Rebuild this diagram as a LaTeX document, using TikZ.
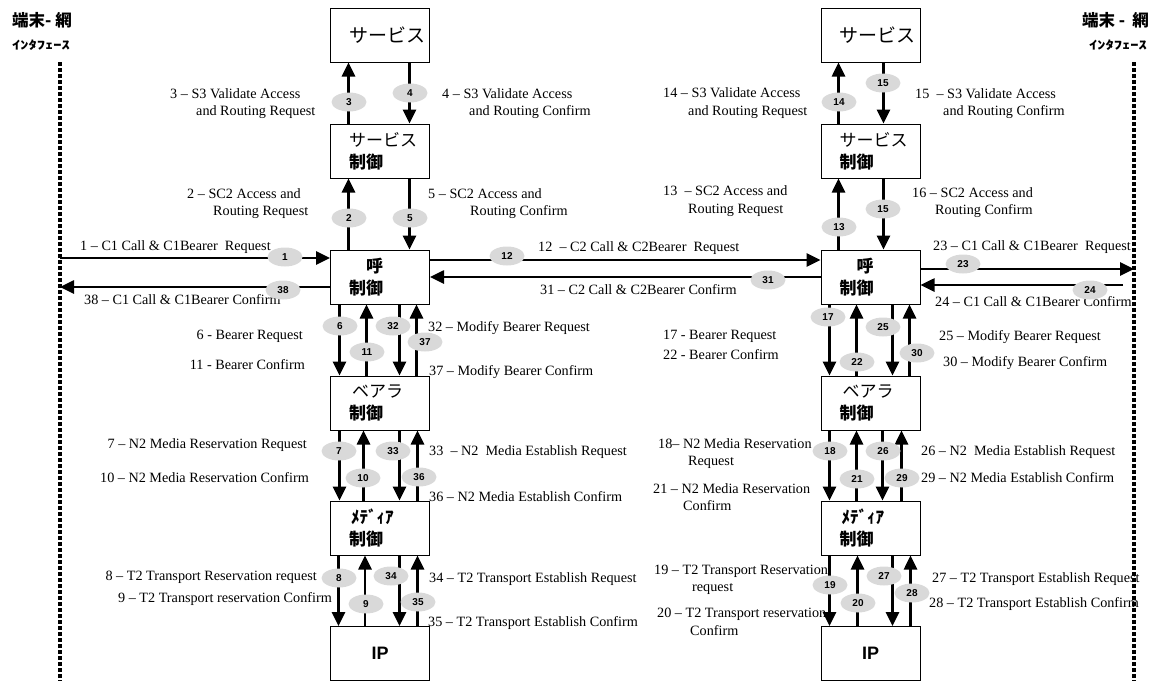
\documentclass[tikz,border=0pt]{standalone}
\usepackage{fontspec}
\usepackage{graphicx}
\setmainfont{Liberation Serif}
\newfontfamily\jp{Noto Sans CJK JP}
\newfontfamily\arial{Liberation Sans}
\usetikzlibrary{arrows.meta,shapes.geometric}
\tikzset{blk/.style={draw,line width=1pt,minimum width=99pt,minimum height=54pt,inner sep=0pt,
 text width=62pt,align=left,font=\jp\fontsize{17}{22}\selectfont},
 arr/.style={line width=2.6pt,-{Triangle[length=14pt,width=13pt]}},
 num/.style={ellipse,fill=black!15,minimum width=35pt,minimum height=19pt,inner sep=0pt,
 font=\arial\bfseries\fontsize{10}{10}\selectfont},
 lbl/.style={inner sep=0pt,font=\fontsize{14.2}{17.5}\selectfont},
 ll/.style={lbl,anchor=west,align=left},lr/.style={lbl,anchor=east,align=right},
 ifc/.style={line width=4pt,dash pattern=on 3.5pt off 2.5pt},
 corner/.style={inner sep=0pt,anchor=west,font=\jp\bfseries\fontsize{16.5}{16.5}\selectfont}}
\begin{document}
\begin{tikzpicture}[x=1pt,y=-1pt]
\useasboundingbox (0,0) rectangle (1157,681);
% interface labels and lines
\node[corner] (jl1) at (12,20) {端末- 網};
\node[corner] (jl2) at (12,45) {\scalebox{1}[0.7]{ｲﾝﾀﾌｪｰｽ}};
\node[corner] (jr1) at (1082,20) {端末 -\hspace{7pt}網};
\node[corner] (jr2) at (1089,45) {\scalebox{1}[0.7]{ｲﾝﾀﾌｪｰｽ}};
\coordinate (lt) at (60,62);
\coordinate (lb) at (60,681);
\coordinate (rt) at (1134,62);
\coordinate (rb) at (1134,681);
\coordinate (t1) at (60,258);
\coordinate (t38) at (60,287);
\coordinate (t23) at (1134,269);
\coordinate (t24) at (1123,285);
% left column
\node[blk,align=center,font=\jp\fontsize{19}{22}\selectfont] (sv1) at (380,35) {サービス};
\node[blk] (sc1) at (380,151) {サービス\\\bfseries 制御};
\node[blk,font=\jp\bfseries\fontsize{17}{22}\selectfont] (cc1) at (380,277) {\hphantom{制}呼\\制御};
\node[blk] (bc1) at (380,403) {\hspace*{3pt}ベアラ\\\bfseries 制御};
\node[blk,font=\jp\bfseries\fontsize{17}{22}\selectfont] (mc1) at (380,528) {\hspace*{2pt}ﾒﾃﾞｨｱ\\制御};
\node[blk,align=center,font=\arial\bfseries\fontsize{18}{18}\selectfont] (ip1) at (380,653.5) {IP};
% right column
\node[blk,align=center,font=\jp\fontsize{19}{22}\selectfont] (sv2) at (870.5,35) {サービス};
\node[blk] (sc2) at (870.5,151) {サービス\\\bfseries 制御};
\node[blk,font=\jp\bfseries\fontsize{17}{22}\selectfont] (cc2) at (870.5,277) {\hphantom{制}呼\\制御};
\node[blk] (bc2) at (870.5,403) {\hspace*{3pt}ベアラ\\\bfseries 制御};
\node[blk,font=\jp\bfseries\fontsize{17}{22}\selectfont] (mc2) at (870.5,528) {\hspace*{2pt}ﾒﾃﾞｨｱ\\制御};
\node[blk,align=center,font=\arial\bfseries\fontsize{18}{18}\selectfont] (ip2) at (870.5,653.5) {IP};
% labels
\node[ll] (l3) at (170,103.5) {3 – S3 Validate Access\\\hspace*{26pt}and Routing Request};
\node[ll] (l4) at (442,103.5) {4 – S3 Validate Access\\\hspace*{27pt}and Routing Confirm};
\node[ll] (l2) at (187,203.5) {2 – SC2 Access and\\\hspace*{26pt}Routing Request};
\node[ll] (l5) at (428,203.5) {5 – SC2 Access and\\\hspace*{42pt}Routing Confirm};
\node[ll] (l1) at (80,247) {1 – C1 Call \& C1Bearer\ \ Request};
\node[ll] (l38) at (84,300) {38 – C1 Call \& C1Bearer Confirm};
\node[lr] (l6) at (303,336) {6 - Bearer Request};
\node[lr] (l11) at (305,365) {11 - Bearer Confirm};
\node[ll] (l32) at (428,328) {32 – Modify Bearer Request};
\node[ll] (l37) at (429,372) {37 – Modify Bearer Confirm};
\node[lr] (l7) at (307,445) {7 – N2 Media Reservation Request};
\node[lr] (l10) at (309,478) {10 – N2 Media Reservation Confirm};
\node[ll] (l33) at (429,452) {33\ \ – N2\ \ Media Establish Request};
\node[ll] (l36) at (429,497) {36 – N2 Media Establish Confirm};
\node[lr] (l8) at (317,577) {8 – T2 Transport Reservation request};
\node[lr] (l9) at (332,599) {9 – T2 Transport reservation Confirm};
\node[ll] (l34) at (429,579) {34 – T2 Transport Establish Request};
\node[ll] (l35) at (428,623) {35 – T2 Transport Establish Confirm};
\node[ll] (l12) at (538,248) {12\ \ – C2 Call \& C2Bearer\ \ Request};
\node[ll] (l31) at (540,290) {31 – C2 Call \& C2Bearer Confirm};
\node[ll] (l14) at (663,103) {14 – S3 Validate Access\\\hspace*{25pt}and Routing Request};
\node[ll] (l15) at (915,103.5) {15\ \ – S3 Validate Access\\\hspace*{28pt}and Routing Confirm};
\node[ll] (l13) at (663,201) {13\ \ – SC2 Access and\\\hspace*{25pt}Routing Request};
\node[ll] (l16) at (912,202.5) {16 – SC2 Access and\\\hspace*{23pt}Routing Confirm};
\node[ll] (l23) at (933,247) {23 – C1 Call \& C1Bearer\ \ Request};
\node[ll] (l24) at (935,302) {24 – C1 Call \& C1Bearer Confirm};
\node[ll] (l17) at (663,336) {17 - Bearer Request};
\node[ll] (l22) at (663,355) {22 - Bearer Confirm};
\node[ll] (l25) at (939,337) {25 – Modify Bearer Request};
\node[ll] (l30) at (943,363) {30 – Modify Bearer Confirm};
\node[ll] (l18) at (658,453.5) {18– N2 Media Reservation\\\hspace*{30pt}Request};
\node[ll] (l21) at (653,497) {21 – N2 Media Reservation\\\hspace*{30pt}Confirm};
\node[ll] (l26) at (921,452) {26 – N2\ \ Media Establish Request};
\node[ll] (l29) at (921,478) {29 – N2 Media Establish Confirm};
\node[ll] (l19) at (654,580) {19 – T2 Transport Reservation\\\hspace*{38pt}request};
\node[ll] (l20) at (657,622) {20 – T2 Transport reservation\\\hspace*{33pt}Confirm};
\node[ll] (l27) at (932,579) {27 – T2 Transport Establish Request};
\node[ll] (l28) at (929,604) {28 – T2 Transport Establish Confirm};
% horizontal messages
\draw[arr] (t1) -- ([yshift=19pt]cc1.west);
\draw[arr] ([yshift=-10pt]cc1.west) -- (t38);
\draw[arr] ([yshift=17pt]cc1.east) -- ([yshift=17pt]cc2.west);
\draw[arr] ([yshift=0pt]cc2.west) -- ([yshift=0pt]cc1.east);
\draw[arr] ([yshift=8pt]cc2.east) -- (t23);
\draw[arr] (t24) -- ([yshift=-8pt]cc2.east);
% vertical messages, left
\draw[arr] ([xshift=18.5pt]sc1.north west) -- ([xshift=18.5pt]sv1.south west);
\draw[arr] ([xshift=79.5pt]sv1.south west) -- ([xshift=79.5pt]sc1.north west);
\draw[arr] ([xshift=18.5pt]cc1.north west) -- ([xshift=18.5pt]sc1.south west);
\draw[arr] ([xshift=79.5pt]sc1.south west) -- ([xshift=79.5pt]cc1.north west);
\draw[arr] ([xshift=9.5pt]cc1.south west) -- ([xshift=9.5pt]bc1.north west);
\draw[arr] ([xshift=36.5pt]bc1.north west) -- ([xshift=36.5pt]cc1.south west);
\draw[arr] ([xshift=69.5pt]cc1.south west) -- ([xshift=69.5pt]bc1.north west);
\draw[arr] ([xshift=86.5pt]bc1.north west) -- ([xshift=86.5pt]cc1.south west);
\draw[arr] ([xshift=9.5pt]bc1.south west) -- ([xshift=9.5pt]mc1.north west);
\draw[arr] ([xshift=33.5pt]mc1.north west) -- ([xshift=33.5pt]bc1.south west);
\draw[arr] ([xshift=69.5pt]bc1.south west) -- ([xshift=69.5pt]mc1.north west);
\draw[arr] ([xshift=87.5pt]mc1.north west) -- ([xshift=87.5pt]bc1.south west);
\draw[arr] ([xshift=8.5pt]mc1.south west) -- ([xshift=8.5pt]ip1.north west);
\draw[arr] ([xshift=35pt]ip1.north west) -- ([xshift=35pt]mc1.south west);
\draw[arr] ([xshift=69.5pt]mc1.south west) -- ([xshift=69.5pt]ip1.north west);
\draw[arr] ([xshift=87.5pt]ip1.north west) -- ([xshift=87.5pt]mc1.south west);
% vertical messages, right
\draw[arr] ([xshift=18pt]sc2.north west) -- ([xshift=18pt]sv2.south west);
\draw[arr] ([xshift=63pt]sv2.south west) -- ([xshift=63pt]sc2.north west);
\draw[arr] ([xshift=18pt]cc2.north west) -- ([xshift=18pt]sc2.south west);
\draw[arr] ([xshift=63pt]sc2.south west) -- ([xshift=63pt]cc2.north west);
\draw[arr] ([xshift=9pt]cc2.south west) -- ([xshift=9pt]bc2.north west);
\draw[arr] ([xshift=36pt]bc2.north west) -- ([xshift=36pt]cc2.south west);
\draw[arr] ([xshift=72pt]cc2.south west) -- ([xshift=72pt]bc2.north west);
\draw[arr] ([xshift=89pt]bc2.north west) -- ([xshift=89pt]cc2.south west);
\draw[arr] ([xshift=9pt]bc2.south west) -- ([xshift=9pt]mc2.north west);
\draw[arr] ([xshift=36pt]mc2.north west) -- ([xshift=36pt]bc2.south west);
\draw[arr] ([xshift=62pt]bc2.south west) -- ([xshift=62pt]mc2.north west);
\draw[arr] ([xshift=81pt]mc2.north west) -- ([xshift=81pt]bc2.south west);
\draw[arr] ([xshift=9pt]mc2.south west) -- ([xshift=9pt]ip2.north west);
\draw[arr] ([xshift=37pt]ip2.north west) -- ([xshift=37pt]mc2.south west);
\draw[arr] ([xshift=72pt]mc2.south west) -- ([xshift=72pt]ip2.north west);
\draw[arr] ([xshift=90pt]ip2.north west) -- ([xshift=90pt]mc2.south west);
% message numbers
\node[num] (n1) at (285,257) {1};
\node[num] (n38) at (283,290) {38};
\node[num] (n3) at (349,102) {3};
\node[num] (n4) at (410,93) {4};
\node[num] (n2) at (349,218) {2};
\node[num] (n5) at (410,218) {5};
\node[num] (n6) at (340,326) {6};
\node[num] (n11) at (367,352) {11};
\node[num] (n32) at (393,326) {32};
\node[num] (n37) at (425,342) {37};
\node[num] (n7) at (339,451) {7};
\node[num] (n10) at (363,478) {10};
\node[num] (n33) at (393,451) {33};
\node[num] (n36) at (419,477) {36};
\node[num] (n8) at (339,578) {8};
\node[num] (n9) at (366,604) {9};
\node[num] (n34) at (391,576) {34};
\node[num] (n35) at (418,602) {35};
\node[num] (n12) at (507,256) {12};
\node[num] (n31) at (768,280) {31};
\node[num] (n14) at (839,102) {14};
\node[num] (n15) at (883,83) {15};
\node[num] (n13) at (839,227) {13};
\node[num] (n15b) at (883,209) {15};
\node[num] (n23) at (963,264) {23};
\node[num] (n24) at (1090,290) {24};
\node[num] (n17) at (828,317) {17};
\node[num] (n22) at (857,362) {22};
\node[num] (n25) at (883,327) {25};
\node[num] (n30) at (917,353) {30};
\node[num] (n18) at (830,451) {18};
\node[num] (n26) at (883,451) {26};
\node[num] (n21) at (857,479) {21};
\node[num] (n29) at (902,478) {29};
\node[num] (n19) at (830,585) {19};
\node[num] (n20) at (858,603) {20};
\node[num] (n27) at (884,576) {27};
\node[num] (n28) at (912,593) {28};
\draw[ifc] (lt) -- (lb);
\draw[ifc] (rt) -- (rb);
\end{tikzpicture}
\end{document}
